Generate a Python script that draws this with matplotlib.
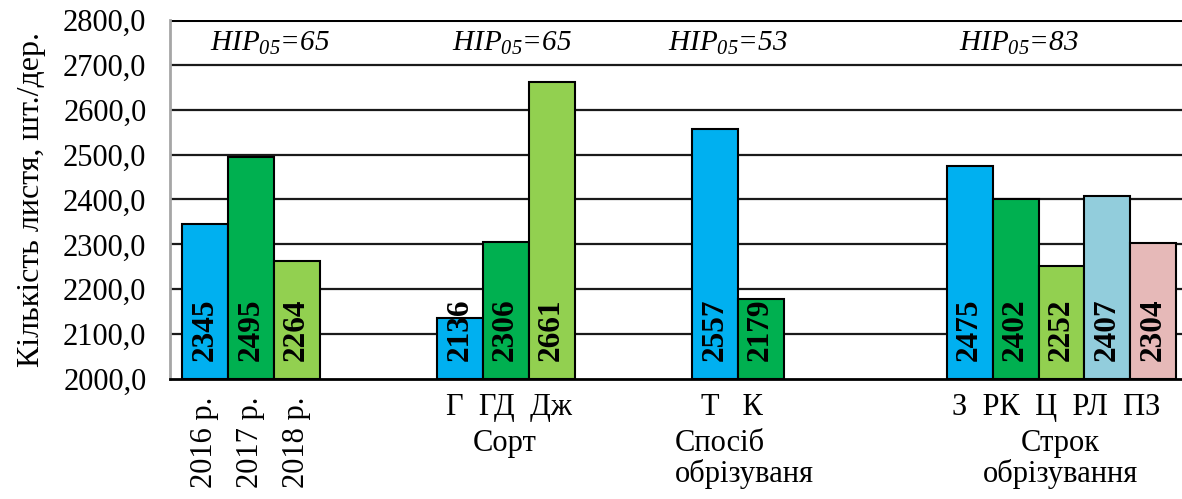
import matplotlib
matplotlib.use("Agg")
import matplotlib.pyplot as plt
from matplotlib.ticker import FuncFormatter

plt.rcParams['font.family'] = ['Liberation Serif', 'DejaVu Serif']
plt.rcParams['mathtext.fontset'] = 'custom'
plt.rcParams['mathtext.rm'] = 'Liberation Serif:italic'
plt.rcParams['mathtext.it'] = 'Liberation Serif:italic'

# ---- data ----
years = ['2016 р.', '2017 р.', '2018 р.']
years_vals = [2345, 2495, 2264]
sort_labels = ['Г', 'ГД', 'Дж']
sort_vals = [2136, 2306, 2661]
method_labels = ['Т', 'К']
method_vals = [2557, 2179]
term_labels = ['З', 'РК', 'Ц', 'РЛ', 'ПЗ']
term_vals = [2475, 2402, 2252, 2407, 2304]
hir_vals = [65, 65, 53, 83]
group_titles = ['', 'Сорт', 'Спосіб\nобрізуваня', 'Строк\nобрізування']

groups = [years_vals, sort_vals, method_vals, term_vals]
colors = [
    ['#00B0F0', '#00B050', '#92D050'],
    ['#00B0F0', '#00B050', '#92D050'],
    ['#00B0F0', '#00B050'],
    ['#00B0F0', '#00B050', '#92D050', '#92CDDC', '#E6B9B8'],
]

fig = plt.figure(figsize=(11.82, 4.99), dpi=100)
ax = fig.add_axes([170/1182, 120/499, 1012/1182, 359/499])

ymin, ymax = 2000, 2800
ax.set_ylim(ymin, ymax)
ax.set_xlim(0, 22.05)

g_start0, g_step, w = 0.26, 5.555, 1.0
for y in range(2100, 2900, 100):
    ax.axhline(y, color='#1a1a1a' if y < 2800 else 'black',
               lw=1.6 if y < 2800 else 2.2, zorder=1)

centers_all = []
for gi, vals in enumerate(groups):
    start = g_start0 + g_step * gi
    xs = [start + i * w for i in range(len(vals))]
    ax.bar(xs, [v - ymin for v in vals], bottom=ymin, width=w, align='edge',
           color=colors[gi], edgecolor='black', linewidth=1.5, zorder=2)
    cs = [x + w / 2 for x in xs]
    centers_all.append(cs)
    for c, v in zip(cs, vals):
        ax.text(c, ymin + 40, f'{v}', rotation=90, ha='center', va='bottom',
                fontsize=22.5, fontweight='bold', zorder=3)

hip_x = [2.18, 7.45, 12.16, 18.5]
for hxv, hv in zip(hip_x, hir_vals):
    ax.text(hxv, 2748, r'$HIP_{05}$' + f'={hv}', ha='center', va='center',
            fontsize=21, fontstyle='italic', zorder=3)

# spines
for s in ['top', 'right']:
    ax.spines[s].set_visible(False)
ax.spines['left'].set_color('#a6a6a6')
ax.spines['left'].set_linewidth(2)
ax.spines['bottom'].set_color('black')
ax.spines['bottom'].set_linewidth(2)
ax.spines['bottom'].set_zorder(4)

ax.set_yticks(range(2000, 2900, 100))
ax.yaxis.set_major_formatter(FuncFormatter(lambda v, p: f'{v:.1f}'.replace('.', ',')))
ax.tick_params(axis='y', length=0, labelsize=22, pad=17)
ax.set_xticks([])
ax.set_ylabel('Кількість листя, шт./дер.', fontsize=23, labelpad=12)

# year labels (rotated)
for c, lab in zip(centers_all[0], years):
    ax.text(c, -0.05, lab, transform=ax.get_xaxis_transform(), rotation=90,
            ha='center', va='top', fontsize=22)

# category label strings
cat_strings = ['  '.join(sort_labels), '   '.join(method_labels), '  '.join(term_labels)]
cat_x = [7.39, 12.25, 19.3]
for cx, s in zip(cat_x, cat_strings):
    ax.text(cx, -0.04, s, transform=ax.get_xaxis_transform(), ha='center',
            va='top', fontsize=22)

# group titles
ax.text(7.3, -0.14, group_titles[1], transform=ax.get_xaxis_transform(),
        ha='center', va='top', fontsize=22, linespacing=1.05)
ax.text(11.0, -0.14, group_titles[2], transform=ax.get_xaxis_transform(),
        ha='left', va='top', fontsize=22, linespacing=1.05)
ax.text(19.4, -0.14, group_titles[3], transform=ax.get_xaxis_transform(),
        ha='center', va='top', fontsize=22, linespacing=1.05)

fig.savefig('out.png', dpi=100)
